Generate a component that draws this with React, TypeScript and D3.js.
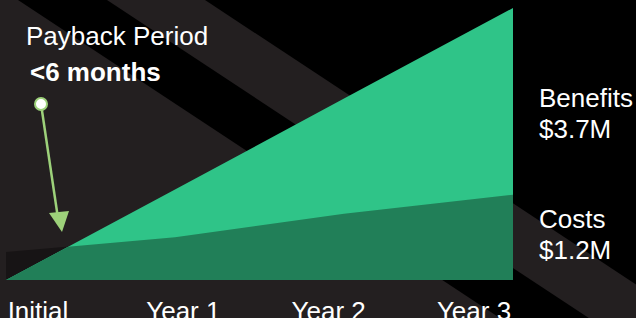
import React from "react";
import { scalePoint, scaleLinear, area, range } from "d3";

// categories and cumulative values ($M)
const categories = ["Initial", "Year 1", "Year 2", "Year 3"];
const benefits = [0, 1.23, 2.47, 3.7];
const costs = [0.38, 0.58, 0.9, 1.16];
const labels = [
  { title: "Benefits", value: "$3.7M" },
  { title: "Costs", value: "$1.2M" },
];

const W = 636;
const H = 318;
const FONT = "'Liberation Sans', Arial, sans-serif";

// background diagonal stripes: x-intercepts at top edge, slope dy/dx
const SLOPE = 0.66;
const greyBands = [
  [-800, 18],
  [107, 205],
];

function App() {
  // x scale for the area points, y scale for the values
  const x = scalePoint<number>()
    .domain(range(categories.length))
    .range([6, 513]);
  const y = scaleLinear().domain([0, 3.7]).range([280, 8]);
  // axis labels sit on their own spacing
  const xLabel = scalePoint<string>().domain(categories).range([38, 474]);

  const areaGen = (vals: number[]) =>
    area<number>()
      .x((d, i) => x(i) as number)
      .y0(y(0))
      .y1((d) => y(d))(vals) as string;

  const benefitsPath = areaGen(benefits);
  const costsPath = areaGen(costs);

  const last = categories.length - 1;

  return (
    <div style={{ position: "fixed", left: 0, top: 0 }}>
      <svg width={W} height={H} style={{ display: "block" }}>
        <defs>
          <clipPath id="benefitsClip">
            <path d={benefitsPath} />
          </clipPath>
        </defs>
        <rect width={W} height={H} fill="#000" />
        {greyBands.map(([a, b], i) => (
          <polygon
            key={i}
            fill="#231f20"
            points={`${a},0 ${b},0 ${b + H / SLOPE},${H} ${a + H / SLOPE},${H}`}
          />
        ))}

        {/* costs above benefits -> near black, benefits green, overlap dark green */}
        <path d={costsPath} fill="#171415" />
        <path d={benefitsPath} fill="#2fc488" />
        <path d={costsPath} fill="#217f58" clipPath="url(#benefitsClip)" />

        {/* payback annotation */}
        <text x={26} y={44.5} fill="#fff" fontFamily={FONT} fontSize={26}>
          Payback Period
        </text>
        <text x={30} y={81} fill="#fff" fontFamily={FONT} fontSize={26} fontWeight="bold">
          &lt;6 months
        </text>
        <line x1={41} y1={104} x2={57.5} y2={215} stroke="#9dd17a" strokeWidth={2.5} />
        <polygon points="62,232 49,213 69,211" fill="#9dd17a" />
        <circle cx={41} cy={104} r={6} fill="#fff" stroke="#9dd17a" strokeWidth={2} />

        {/* series labels at the right */}
        {labels.map((l, i) => {
          const v = i === 0 ? benefits[last] : costs[last];
          const base = i === 0 ? 107 : 228;
          return (
            <g key={l.title} fill="#fff" fontFamily={FONT} fontSize={26}>
              <text x={539} y={base}>
                {l.title}
              </text>
              <text x={539} y={base + 31}>
                {l.value}
              </text>
            </g>
          );
        })}

        {/* category axis labels */}
        {categories.map((c) => (
          <text
            key={c}
            x={xLabel(c)}
            y={320}
            textAnchor="middle"
            fill="#fff"
            fontFamily={FONT}
            fontSize={26}
          >
            {c}
          </text>
        ))}
      </svg>
    </div>
  );
}

export default App;
